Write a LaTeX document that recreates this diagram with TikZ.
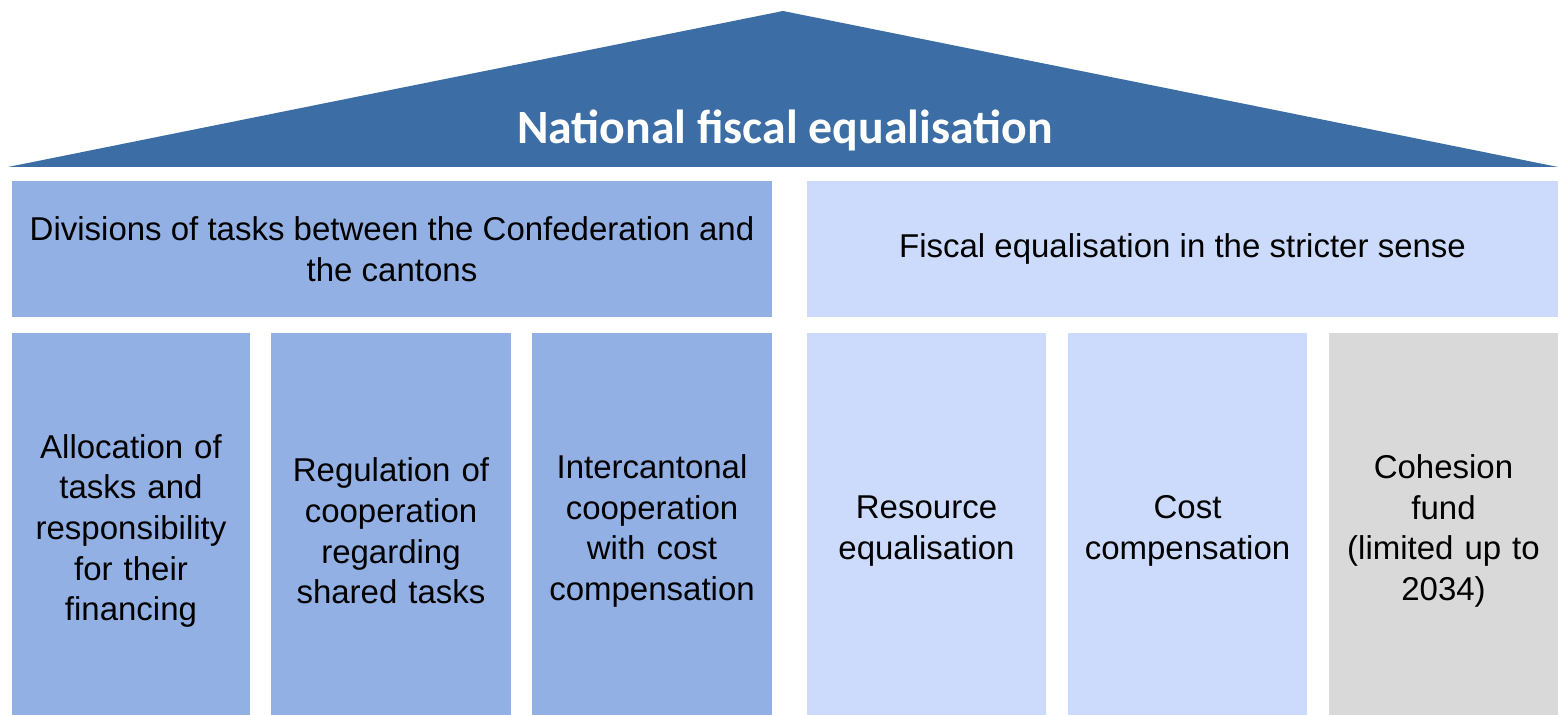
\documentclass[tikz,border=0pt]{standalone}
\usepackage{fontspec}
\setmainfont{Liberation Sans}
\newfontfamily\rooffont{Carlito}
\usetikzlibrary{positioning}
\definecolor{roofBlue}{HTML}{3C6EA5}
\definecolor{taskBlue}{HTML}{92B0E4}
\definecolor{fiscBlue}{HTML}{CCDBFB}
\definecolor{fundGray}{HTML}{D9D9D9}

\begin{document}
\begin{tikzpicture}[
  x=0.5pt,y=-0.5pt,
  font=\fontsize{16.5}{20.3}\selectfont,
  box/.style={inner sep=0pt,outer sep=0pt,align=center,anchor=north west},
  head/.style={box,minimum height=68pt},
  % columns run past the lower edge, which is cropped
  col/.style={box,minimum height=198pt,minimum width=120pt,text width=114pt},
  task/.style={fill=taskBlue},
  fisc/.style={fill=fiscBlue}]
  \useasboundingbox (0,0) rectangle (1558,715);
  % roof
  \fill[roofBlue] (8,167) -- (783,11) -- (1558,167) -- cycle;
  \node[anchor=base,text=white,font=\rooffont\bfseries\fontsize{23.9}{28}\selectfont] (roof) at (785,144) {National fiscal equalisation};
  % the two headers
  \node[head,task,minimum width=380pt] (tasks) at (12,181) {Divisions of tasks between the Confederation and\\the cantons};
  \node[head,fisc,minimum width=375.5pt] (fisc) at (807,181) {Fiscal equalisation in the stricter sense};
  % columns under the headers
  \node[col,task,minimum width=119pt] (alloc) at (12,333) {Allocation of\\tasks and\\responsibility\\for their\\financing};
  \node[col,task,right=10.5pt of alloc] (coop) {Regulation of\\cooperation\\regarding\\shared tasks};
  \node[col,task,right=10.5pt of coop] (inter) {Intercantonal\\cooperation\\with cost\\compensation};
  \node[col,fisc,minimum width=119.5pt] (res) at (807,333) {Resource\\equalisation};
  \node[col,fisc,minimum width=119.5pt,right=11pt of res] (cost) {Cost\\compensation};
  \node[col,fill=fundGray,minimum width=114.5pt,text width=112pt,right=11pt of cost] (fund) {Cohesion\\fund\\(limited up to\\2034)};
\end{tikzpicture}
\end{document}
